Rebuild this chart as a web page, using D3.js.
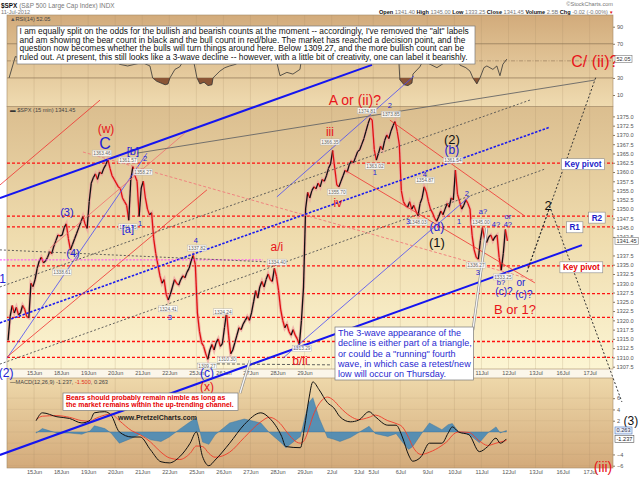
<!DOCTYPE html>
<html>
<head>
<meta charset="utf-8">
<script src="https://cdn.jsdelivr.net/npm/d3@7"></script>
<style>
  body { margin: 0; background: #fff; }
  svg { display: block; }
  text { font-family: "Liberation Sans", Arial, sans-serif; }
</style>
</head>
<body>
<script>
const days = ["14Jun","15Jun","18Jun","19Jun","20Jun","21Jun","22Jun","25Jun","26Jun","27Jun","28Jun","29Jun",
  "2Jul","3Jul","5Jul","6Jul","9Jul","10Jul","11Jul","12Jul","13Jul","16Jul","17Jul"];
const barsPerDay = [13,13,13,13,13,13,13,13,13,13,13,13,13,7,13,13,13,13,13,13,13,13,13];

const closes = [
  1314.6,1321,1324,1322,1323.5,1321.5,1322,1324,1323,1321,1320.7,1330,1329.1,      // 14Jun
  1331,1334,1336,1337,1335.5,1336,1337,1338.5,1338,1340,1341.5,1343,1342.8,       // 15Jun
  1343,1345,1346,1342,1339,1340.5,1342,1343.5,1345,1346.5,1348,1346,1344.8,       // 18Jun
  1352,1357,1358.5,1359.5,1358,1360,1359.5,1361,1362,1363.4,1361,1359,1358,       // 19Jun
  1357,1356,1355.5,1353,1352,1351,1347,1358,1361.5,1359,1357.5,1348,1355.7,       // 20Jun
  1357.5,1353,1350,1348.5,1349,1342,1338,1335,1332,1330,1331,1327,1325.5,         // 21Jun
  1327,1329,1331,1330,1329.5,1331,1332,1331.5,1333,1334,1336,1337.5,1335,         // 22Jun
  1322,1317,1314,1313,1311,1309.5,1312,1313.5,1312,1314,1315,1313,1313.7,         // 25Jun
  1318,1322,1316,1311,1312,1314,1316,1318,1317.5,1319,1320,1321,1320,             // 26Jun
  1322,1325,1328,1326,1329,1330.5,1329,1331,1332.5,1331,1330.5,1334,1331.9,       // 27Jun
  1328,1323,1320,1318,1319,1317,1316,1317.5,1316,1315,1313.5,1320,1329,           // 28Jun
  1350,1354.5,1353,1355,1356,1355.5,1357,1356,1358,1357.5,1359,1361,1362.2,       // 29Jun
  1365.8,1361,1356.5,1356,1357.5,1359,1360.5,1360,1362,1363,1362.5,1364,1365.5,   // 2Jul
  1366,1367.5,1369,1371,1373,1374.6,1374,                                         // 3Jul
  1366,1363.2,1365,1367,1366,1368.5,1370,1369,1371,1372.5,1373.6,1371,1367.6,     // 5Jul
  1355,1352,1351,1350.5,1352,1350,1351,1349.5,1348.2,1351.5,1353,1356,1354.7,     // 6Jul
  1352,1350,1349,1347.5,1346.7,1348,1349.5,1348.5,1350,1351.5,1350.5,1353,1352.5, // 9Jul
  1360.5,1354,1352,1350,1351,1352.5,1351.5,1350,1343,1339,1337,1336.5,1341.5,     // 10Jul
  1345,1342,1341,1342.5,1343,1341.5,1342.5,1343,1337,1333.5,1338,1344.5,1341.45   // 11Jul
];

// RSI(14): [bar, value]
const rsiPts = [[1,30],[4,55],[8,52],[12,62],[15,66],[19,60],[23,63],[26,60],[28,48],[31,55],[35,64],[38,58],
  [40,74],[43,72],[47,70],[50,60],[52,56],[54,46],[58,44],[61.5,46],[65,48],[68.7,44],[70,30],[72,26],[74,24],
  [76,22],[77.4,23],[78.3,30],[80.7,40],[83,43],[86,55],[89,58],[91.3,30],[92.7,23],[94.7,25],[96.6,21],[98.5,22],
  [99,30],[102.3,38],[104.7,42],[107,44],[110,46],[113,52],[118,58],[122,62],[126,60],[129,55],[131.2,32.6],
  [134.5,36.5],[137.4,34.5],[140.8,40],[143,78],[147,74],[152,70],[156,72],[158,52],[162,60],[166,62],[170,70],
  [174,74],[176,48],[179,58],[184,68],[187,56],[188.4,46],[188.8,28],[190.8,22],[192.7,21],[194.6,24],[195.1,34.5],
  [198.4,43],[199.9,50],[203.3,46],[206.6,42],[210.4,48],[213.8,50],[215.3,60],[217.7,45],[220.5,42],[222.5,38],
  [223.9,30],[225.8,23],[227.3,30],[229.2,42],[230.6,44],[233.5,40],[235.4,44],[236.9,32.6],[238.3,46],[240.2,52.05]];

// MACD(12,26,9)
const macdBars = [14,17,24,30,36,40,42,47,50,54,60,64,69,74,78,83,88,91,94,97,100,107,114,122,126,132,134,141,
  143,145,147,150,154,157,160,165,169,174,177,183,187,190,193,195,199,203,209,212,214,217,222,227,231,235,237,240];
const macdLine = [2.0,3.4,2.7,2.4,1.6,2.1,3.4,3.6,3.0,0.0,-0.9,-0.9,-3.2,-5.3,-5.5,-4.4,-2.0,0.0,-4.4,-6.0,
  -5.0,-2.0,1.3,3.4,2.5,-0.8,-2.6,-2.8,0.9,5.7,8.9,7.5,5.2,4.3,2.7,1.8,2.1,3.6,2.7,1.2,1.2,-0.9,-4.1,-5.2,-4.4,
  -2.0,-2.0,-0.2,0.9,0.0,-0.5,-3.5,-2.6,-1.1,-2.0,-1.237];
const signalLine = [2.2,2.8,2.9,2.6,2.0,1.9,2.3,3.0,3.2,2.0,0.2,-0.5,-1.8,-3.6,-4.6,-4.9,-3.8,-2.5,-2.6,-3.8,
  -4.5,-3.6,-1.0,1.8,2.6,1.2,0.2,-2.0,-1.4,0.5,2.8,5.0,6.2,5.6,4.4,2.8,2.2,2.6,3.0,2.0,1.5,0.9,-1.0,-2.6,-4.0,
  -3.6,-2.4,-1.5,-0.6,0.0,-0.1,-1.6,-2.4,-2.0,-1.8,-1.5];

// tick labels that show on the right axes (the others sit under the last-value tags)
const priceTicks = [1307.5,1310,1312.5,1315,1317.5,1320,1322.5,1325,1327.5,1330,1332.5,1335,1337.5,
  1342.5,1345,1347.5,1350,1352.5,1355,1357.5,1360,1362.5,1365,1367.5,1370,1372.5,1375];
const rsiTicks = [10,30,70,90];
const macdTicks = [-6,-4,2,4,6];
const macdGrid = [-6,-4,-2,0,2,4,6];

// drawn levels and annotations, in [bar, price]
const levels = [1362.4,1348.1,1345.2,1334.7,1327.2,1320.8,1314.3,1310.0];
const trendLines = [
  ["blueThick", [[-3.4,1353.0],[175.4,1388.9]]],
  ["blueThick", [[-3.4,1283.7],[276.3,1340.3]]],
  ["blueDash", [[-3.4,1319.3],[260.9,1372.1]]],
  ["blueThin", [[0,1309.8],[67.3,1365.1]]],
  ["blueThin", [[129.7,1353.3],[195.6,1385.9]]],
  ["blueThin", [[132.6,1309.8],[222.5,1353.5]]],
  ["redThin", [[-3.4,1356.5],[44.7,1379.4]]],
  ["redThin", [[0,1310.1],[96.1,1355.2]]],
  ["redThin", [[184,1374],[248.9,1348.1]]],
  ["redThin", [[162.4,1360.5],[253.7,1330.1]]],
  ["pinkThin", [[20.7,1339.5],[85.5,1370.5]]],
  ["pinkDash", [[36.5,1365.4],[252.7,1330.9]]],
  ["magentaDot", [[-3.4,1336.3],[123,1336.3]]],
  ["greyDot", [[-3.4,1329],[251.3,1379.4]]],
  ["greyDot", [[-3.4,1308.2],[258.5,1360.8]]],
  ["greyDot", [[-3.4,1339],[127.8,1335.7]]],
  ["greyDash", [[91.3,1308.3],[155.2,1308]]],
  ["greySolid", [[62.5,1365.1],[282.5,1384.8]]],
  ["projection", [[249.9,1333],[260.9,1350.6],[295.5,1298]]],
  ["projection", [[250.4,1334.1],[283,1385.6]]]
];
const pointers = [[[223.9,1317.4],[230.6,1344.9]], [[112,1300.4],[116.8,1309.3]]];

const waveLabels = [
  [47.6,1371.6,"(w)","r12"],[47.1,1367.8,"C","b16"],[60.5,1365.7,"[b]","b11"],[66.3,1363.8,"2","bs"],
  [28.8,1349.2,"(3)","b11"],[31.7,1338.2,"(4)","b11"],[58.1,1344.6,"[a]","b11"],[63.9,1346.2,"1","bs"],
  [90.8,1341.7,"4","bs"],[129.7,1339.8,"a/i","r12"],[155.2,1370.8,"iii","r12"],[159,1351.6,"iv","r12"],
  [167.2,1379.4,"A or (ii)?","r14"],[184,1378.1,"2","bs"],[176.8,1360,"1","bs"],[213.8,1368.9,"(2)","k13"],
  [213.8,1365.9,"(b)","b12"],[200.8,1359.5,"4","bs"],[192.7,1346.8,"3","bs"],[206.6,1345.2,"(d)","b12"],
  [206.6,1340.9,"(1)","k13"],[217.2,1346.8,"1","bs"],[221,1354.3,"2","bs"],[228.7,1349.5,"a?","bs"],
  [235,1346,"4?","bs"],[240.7,1348.1,"or","bs"],[240.7,1346,"4?","bs"],[226.3,1333,"3","bs"],
  [237.4,1330.3,"b?","bs"],[238.8,1327.9,"(c)?","b10"],[247,1330.1,"or","b10"],[248.4,1327.1,"(c)?","b10"],
  [244.1,1323,"B or 1?","r13"],[260,1351.1,"2","k13"],[282.5,1389.7,"C/ (ii)?","r16"],[299.8,1292.9,"(3)","k12"],
  [286.4,1280.5,"(iii)","r14"],[-0.4,1305.8,"(2)","b12"],[-2.1,1331.2,"1","b12"],[78.3,1320.9,"3","bs"],
  [96.1,1305.8,"(c)","b12"],[96.1,1302,"(x)","r12"],[140.8,1309,"b/ii","r12"]
];
const valueTags = [
  [45.6,1365.1,"1363.46"],[58.1,1363.2,"1361.57"],[65.3,1360,"1358.27"],[58.1,1345.2,"1346.45"],
  [26.4,1333,"1338.61"],[91.3,1339.5,"1337.82"],[129.7,1335.7,"1334.40"],[77.4,1323.1,"1324.41"],
  [96.1,1307.7,"1309.27"],[103.8,1322.3,"1324.24"],[105.7,1309.4,"1310.30"],[141.7,1312.4,"1313.29"],
  [155.2,1368.1,"1366.35"],[158.6,1354.6,"1355.70"],[173,1376.5,"1374.81"],[184.5,1375.6,"1373.85"],
  [176.8,1361.6,"1363.02"],[200.8,1357.8,"1354.87"],[197.5,1346.5,"1348.03"],[214.3,1363.2,"1361.54"],
  [227.8,1346.5,"1345.00"],[225.4,1334.9,"1336.27"],[238.3,1331.7,"1333.25"]
];
const pivotTags = [[276.8,1362.1,"Key pivot","blue"],[276,1334.3,"Key pivot","red"],
  [283.5,1347.7,"R2","blue"],[272.8,1345.1,"R1","blue"]];

const noteLines = [
  "I am equally split on the odds for the bullish and bearish counts at the moment -- accordingly, I've removed the \"alt\" labels",
  "and am showing the bear count in black and the bull count in red/blue.  The market has reached a decision point, and the",
  "question now becomes whether the bulls will turn things around here. Below 1309.27, and the more bullish count can be",
  "ruled out.  At present, this still looks like a 3-wave decline -- however, with a little bit of creativity, one can label it bearishly."
];
const waveNote = ["The 3-wave appearance of the","decline is either part of a triangle,",
  "or could be a \"running\" fourth","wave, in which case a retest/new","low will occur on Thursday."];
const bearNote = ["Bears should probably remain nimble as long as","the market remains within the up-trending channel."];

// ---- layout ----
const L = 7, R = 613;
const rsiTop = 15, rsiBot = 106.5, mainTop = 106.5, mainBot = 369, macdTop = 378, macdBot = 468;
const RED = "#e8141a", BLUE = "#2121d6";
const waveBox = [335, 327, 138.5, 53];

const starts = [0, ...d3.cumsum(barsPerDay)];
const x = d3.scaleLinear().domain([0, 293]).range([7, 616.7]);
const yP = d3.scaleLinear().domain([1307.5, 1375]).range([366.7, 116.4]);
const yR = d3.scaleLinear().domain([10, 90]).range([95, 26.7]);
const yM = d3.scaleLinear().domain([-6, 2]).range([465.7, 420.7]);

const svg = d3.select("body").append("svg").attr("width", 640).attr("height", 479);
const defs = svg.append("defs");

function grad(id, stops) {
  const g = defs.append("linearGradient").attr("id", id)
    .attr("x1", 0).attr("y1", 0).attr("x2", 0).attr("y2", 1);
  stops.forEach(s => g.append("stop").attr("offset", s[0]).attr("stop-color", s[1]));
}
grad("gRsi", [[0, "#d2ab7b"], [1, "#efdbb0"]]);
grad("gMain", [[0, "#dbbe8f"], [0.5, "#efdcae"], [1, "#fcf5d3"]]);
grad("gMacd", [[0, "#eed8aa"], [1, "#d3aa7a"]]);

function clip(id, y0, y1) {
  defs.append("clipPath").attr("id", id).append("rect")
    .attr("x", L).attr("y", y0).attr("width", R - L).attr("height", y1 - y0);
}
clip("cRsi", rsiTop, rsiBot);
clip("cRsiLow", yR(30), rsiBot);
clip("cMain", mainTop, mainBot);
clip("cMacd", macdTop, macdBot);

// background strips
svg.append("rect").attr("x", L).attr("y", mainBot).attr("width", R - L).attr("height", macdTop - mainBot).attr("fill", "#fbf6ea");
[[rsiTop, rsiBot, "gRsi"], [mainTop, mainBot, "gMain"], [macdTop, macdBot, "gMacd"]].forEach(p => {
  svg.append("rect").attr("x", L).attr("y", p[0]).attr("width", R - L).attr("height", p[1] - p[0])
    .attr("fill", `url(#${p[2]})`).attr("stroke", "#a48a68").attr("stroke-width", 0.6);
});

// day grid
[[rsiTop, rsiBot], [mainTop, mainBot], [macdTop, macdBot]].forEach(p => {
  svg.append("g").selectAll("line").data(starts.slice(1, days.length)).join("line")
    .attr("x1", d => x(d)).attr("x2", d => x(d)).attr("y1", p[0]).attr("y2", p[1])
    .attr("stroke", "#a88c64").attr("stroke-opacity", 0.35).attr("stroke-width", 0.6);
});

// x axes (the main one is partly hidden by the call-out box, as in the original)
function styleAxis(g) {
  g.attr("font-size", 5.6).attr("font-family", "Liberation Sans, Arial, sans-serif");
  g.select(".domain").remove();
  g.selectAll("line").attr("stroke", "#8a7a62");
  g.selectAll("text").attr("fill", "#555");
}
const dayTicks = starts.slice(1, days.length);
const dayName = d => days[starts.indexOf(d)];
svg.append("g").attr("transform", `translate(0,${mainBot})`)
  .call(d3.axisBottom(x).tickValues(dayTicks.filter(d => x(d) < waveBox[0] - 4 || x(d) > waveBox[0] + waveBox[2] + 4))
    .tickFormat(dayName).tickSize(0).tickPadding(2.5))
  .call(styleAxis);
svg.append("g").attr("transform", `translate(0,${macdBot})`)
  .call(d3.axisBottom(x).tickValues(dayTicks).tickFormat(dayName).tickSize(0).tickPadding(2.5))
  .call(styleAxis);

// ---- RSI panel ----
const gR = svg.append("g").attr("clip-path", "url(#cRsi)");
gR.selectAll("line.lv").data([70, 30]).join("line")
  .attr("x1", L).attr("x2", R).attr("y1", d => yR(d)).attr("y2", d => yR(d))
  .attr("stroke", "#8d7455").attr("stroke-width", 0.7);
gR.append("line").attr("x1", L).attr("x2", R).attr("y1", yR(50)).attr("y2", yR(50))
  .attr("stroke", "#8d7455").attr("stroke-width", 0.6).attr("stroke-dasharray", "4,1.5,1,1.5");
gR.append("path").datum(rsiPts).attr("clip-path", "url(#cRsiLow)")
  .attr("d", d3.area().x(d => x(d[0])).y0(yR(30)).y1(d => yR(d[1])))
  .attr("fill", "#8a5536");
gR.append("path").datum(rsiPts)
  .attr("d", d3.line().x(d => x(d[0])).y(d => yR(d[1])))
  .attr("fill", "none").attr("stroke", "#333").attr("stroke-width", 0.8);

// ---- MACD panel ----
const macd = macdBars.map((b, i) => ({ b, m: macdLine[i], s: signalLine[i] }));
const gM = svg.append("g").attr("clip-path", "url(#cMacd)");
gM.selectAll("line.hg").data(macdGrid).join("line")
  .attr("x1", L).attr("x2", R).attr("y1", d => yM(d)).attr("y2", d => yM(d))
  .attr("stroke", "#a88c64").attr("stroke-opacity", 0.25).attr("stroke-width", 0.5);
gM.append("path").datum(macd)
  .attr("d", d3.area().x(d => x(d.b)).y0(yM(0)).y1(d => yM(d.m - d.s)))
  .attr("fill", "#3f86b8").attr("fill-opacity", 0.85).attr("stroke", "#2f6f9e").attr("stroke-width", 0.4);
gM.append("path").datum(macd)
  .attr("d", d3.line().x(d => x(d.b)).y(d => yM(d.s)).curve(d3.curveMonotoneX))
  .attr("fill", "none").attr("stroke", "#f03a2a").attr("stroke-width", 0.9);
gM.append("path").datum(macd)
  .attr("d", d3.line().x(d => x(d.b)).y(d => yM(d.m)).curve(d3.curveMonotoneX))
  .attr("fill", "none").attr("stroke", "#111").attr("stroke-width", 1);

// ---- main panel ----
const gP = svg.append("g").attr("clip-path", "url(#cMain)");
gP.selectAll("line.lvl").data(levels).join("line")
  .attr("x1", L).attr("x2", R).attr("y1", d => yP(d)).attr("y2", d => yP(d))
  .attr("stroke", "#ff1010").attr("stroke-width", 1.3).attr("stroke-dasharray", "3,2");

const lineStyle = {
  blueThick: ["#1515f0", 2, null], blueDash: ["#1a1af0", 1.6, "2.5,1.5"], blueThin: ["#4a4af5", 0.8, null],
  redThin: ["#f03030", 0.8, null], pinkThin: ["#f07070", 0.8, null], pinkDash: ["#f07a7a", 0.9, "3,2"],
  magentaDot: ["#ff40ff", 1, "2,1.5"], greyDot: ["#505050", 0.9, "2,2"], greyDash: ["#505050", 0.9, "3,2"],
  greySolid: ["#666", 0.9, null], projection: ["#333", 1, "2,2"]
};
const ln = d3.line().x(d => x(d[0])).y(d => yP(d[1]));
const gA = svg.append("g");
gA.selectAll("path").data(trendLines).join("path")
  .attr("d", d => ln(d[1])).attr("fill", "none")
  .attr("stroke", d => lineStyle[d[0]][0]).attr("stroke-width", d => lineStyle[d[0]][1])
  .attr("stroke-dasharray", d => lineStyle[d[0]][2]);

// price bars
gP.append("path").datum(closes)
  .attr("d", d3.line().x((d, i) => x(i + 0.5)).y(d => yP(d)))
  .attr("fill", "none").attr("stroke", "#f0a0a0").attr("stroke-opacity", 0.7).attr("stroke-width", 3.2);
const segs = closes.slice(1).map((c, i) => ({ a: closes[i], c, i: i + 1 }));
gP.selectAll("line.bar").data(segs).join("line")
  .attr("x1", d => x(d.i - 0.5)).attr("x2", d => x(d.i + 0.5))
  .attr("y1", d => yP(d.a)).attr("y2", d => yP(d.c))
  .attr("stroke", d => d.c >= d.a ? "#111" : "#e01010").attr("stroke-width", 1.3);

// value tags
const gT = svg.append("g");
valueTags.forEach(t => {
  const g = gT.append("g").attr("transform", `translate(${x(t[0])},${yP(t[1])})`);
  const tx = g.append("text").attr("text-anchor", "middle").attr("dy", "0.35em")
    .attr("font-size", 4.8).attr("fill", "#666").text(t[2]);
  const w = tx.node().getComputedTextLength() + 2;
  g.insert("rect", "text").attr("x", -w / 2).attr("y", -3).attr("width", w).attr("height", 6)
    .attr("fill", "#fff").attr("fill-opacity", 0.85).attr("stroke", "#aaa").attr("stroke-width", 0.4);
});

// pointers of the call-outs
pointers.forEach(p => {
  gA.append("path").attr("d", ln(p)).attr("stroke", "#8a8a8a").attr("stroke-width", 2.6).attr("fill", "none");
  gA.append("path").attr("d", ln(p)).attr("stroke", "#f4f4f4").attr("stroke-width", 1.4).attr("fill", "none");
});

// wave labels
const waveStyle = {
  r12: [RED, 12], r13: [RED, 13], r14: [RED, 14], r16: [RED, 16],
  b10: [BLUE, 10], b11: [BLUE, 11], b12: [BLUE, 12], b16: [BLUE, 16], bs: [BLUE, 7.5],
  k12: ["#111", 12], k13: ["#111", 13]
};
svg.append("g").selectAll("text").data(waveLabels).join("text")
  .attr("x", d => x(d[0])).attr("y", d => yP(d[1])).attr("dy", "0.35em")
  .attr("text-anchor", "middle").attr("fill", d => waveStyle[d[3]][0])
  .attr("font-size", d => waveStyle[d[3]][1]).text(d => d[2]);

// pivot tags
pivotTags.forEach(t => {
  const g = svg.append("g").attr("transform", `translate(${x(t[0])},${yP(t[1])})`);
  const tx = g.append("text").attr("text-anchor", "middle").attr("dy", "0.35em")
    .attr("font-size", 8.2).attr("font-weight", "bold").attr("fill", t[3] === "red" ? "#e80000" : "#1c1cc8").text(t[2]);
  const w = tx.node().getComputedTextLength() + 6;
  g.insert("rect", "text").attr("x", -w / 2).attr("y", -5.5).attr("width", w).attr("height", 11)
    .attr("fill", "#fff").attr("stroke", "#8a8a8a").attr("stroke-width", 0.6);
});

// ---- note boxes ----
function noteBox(lines, bx, by, bw, bh, tx, ty0, lh, refWidth, color, weight, size) {
  const g = svg.append("g");
  g.append("rect").attr("x", bx).attr("y", by).attr("width", bw).attr("height", bh)
    .attr("fill", "#fff").attr("stroke", "#7a7a7a").attr("stroke-width", 0.7);
  const ts = g.selectAll("text").data(lines).join("text")
    .attr("x", tx).attr("y", (d, i) => ty0 + i * lh)
    .attr("font-size", size).attr("font-weight", weight).attr("fill", color).text(d => d);
  let mx = 0;
  ts.each(function () { mx = Math.max(mx, this.getComputedTextLength()); });
  ts.attr("font-size", size * refWidth / mx);
}
noteBox(noteLines, 17, 26, 458, 38, 19.5, 34, 8.7, 450, "#111", "normal", 7.6);
noteBox(bearNote, 63, 393, 175, 17.5, 66, 399.5, 7.7, 168, "#e60000", "bold", 6.3);
noteBox(waveNote, waveBox[0], waveBox[1], waveBox[2], waveBox[3], 338, 335.7, 10.4, 134, "#2a2ad0", "normal", 8);

svg.append("text").attr("x", 118).attr("y", 420).attr("font-size", 7.5).attr("font-weight", "bold")
  .attr("fill", "#222").attr("textLength", 79).attr("lengthAdjust", "spacingAndGlyphs")
  .text("www.PretzelCharts.com");

// ---- right axes ----
svg.append("g").attr("transform", `translate(${R},0)`)
  .call(d3.axisRight(yP).tickValues(priceTicks).tickFormat(d3.format(".1f")).tickSize(2).tickPadding(1.5))
  .call(styleAxis);
svg.append("g").attr("transform", `translate(${R},0)`)
  .call(d3.axisRight(yR).tickValues(rsiTicks).tickSize(2).tickPadding(2)).call(styleAxis);
svg.append("g").attr("transform", `translate(${R},0)`)
  .call(d3.axisRight(yM).tickValues(macdTicks).tickSize(2).tickPadding(2)).call(styleAxis);

// last-value tags on the right axis
function lastTag(yv, label, stroke, fill, color) {
  const g = svg.append("g").attr("transform", `translate(${R + 2},${yv})`);
  const t = g.append("text").attr("x", 1.5).attr("dy", "0.35em").attr("font-size", 5.6).attr("fill", color).text(label);
  const w = t.node().getComputedTextLength() + 3;
  g.insert("rect", "text").attr("y", -3.5).attr("width", w).attr("height", 7)
    .attr("fill", fill).attr("stroke", stroke).attr("stroke-width", 0.6);
}
lastTag(yP(closes[closes.length - 1]), "1341.45", "#777", "#fff", "#333");
lastTag(yR(rsiPts[rsiPts.length - 1][1]), "52.05", "#777", "#fff", "#333");
lastTag(yM(0.263), "0.263", "#4a78c0", "#e8eef8", "#335");
lastTag(yM(macdLine[macdLine.length - 1]), "-1.237", "#555", "#fff", "#222");

// ---- panel captions and header ----
function caption(xp, yp, parts) {
  const t = svg.append("text").attr("x", xp).attr("y", yp).attr("font-size", 5.6);
  parts.forEach(p => t.append("tspan").attr("fill", p[1]).attr("font-weight", p[2] || "normal").text(p[0]));
  return t;
}
caption(10, 20.5, [["\u25B2", "#555"], ["RSI(14) 52.05", "#444"]]);
caption(10, 112, [["\u25AC ", "#333"], ["$SPX (15 min) 1341.45", "#444"]]);
caption(10, 383.5, [["\u2014", "#111"], ["MACD(12,26,9) -1.237, ", "#444"], ["-1.500", "#e03020"], [", 0.263", "#444"]]);

caption(1, 7.5, [["$SPX ", "#111", "bold"], ["(S&P 500 Large Cap Index) INDX", "#777"]]).attr("font-size", 6.4);
caption(1, 13.8, [["11-Jul-2012", "#777"]]);
caption(613, 6, [["\u00A9StockCharts.com", "#777"]]).attr("text-anchor", "end");
caption(608, 13.5, [
  ["Open ", "#111", "bold"], ["1341.40 ", "#777"], ["High ", "#111", "bold"], ["1345.00 ", "#777"],
  ["Low ", "#111", "bold"], ["1333.25 ", "#777"], ["Close ", "#111", "bold"], ["1341.45 ", "#777"],
  ["Volume ", "#111", "bold"], ["2.5B ", "#777"], ["Chg ", "#111", "bold"], ["-0.02 (-0.00%)", "#777"]
]).attr("text-anchor", "end");
caption(609, 13.5, [["\u25BC", "#e01010"]]).attr("font-size", 4.5);
</script>
</body>
</html>
